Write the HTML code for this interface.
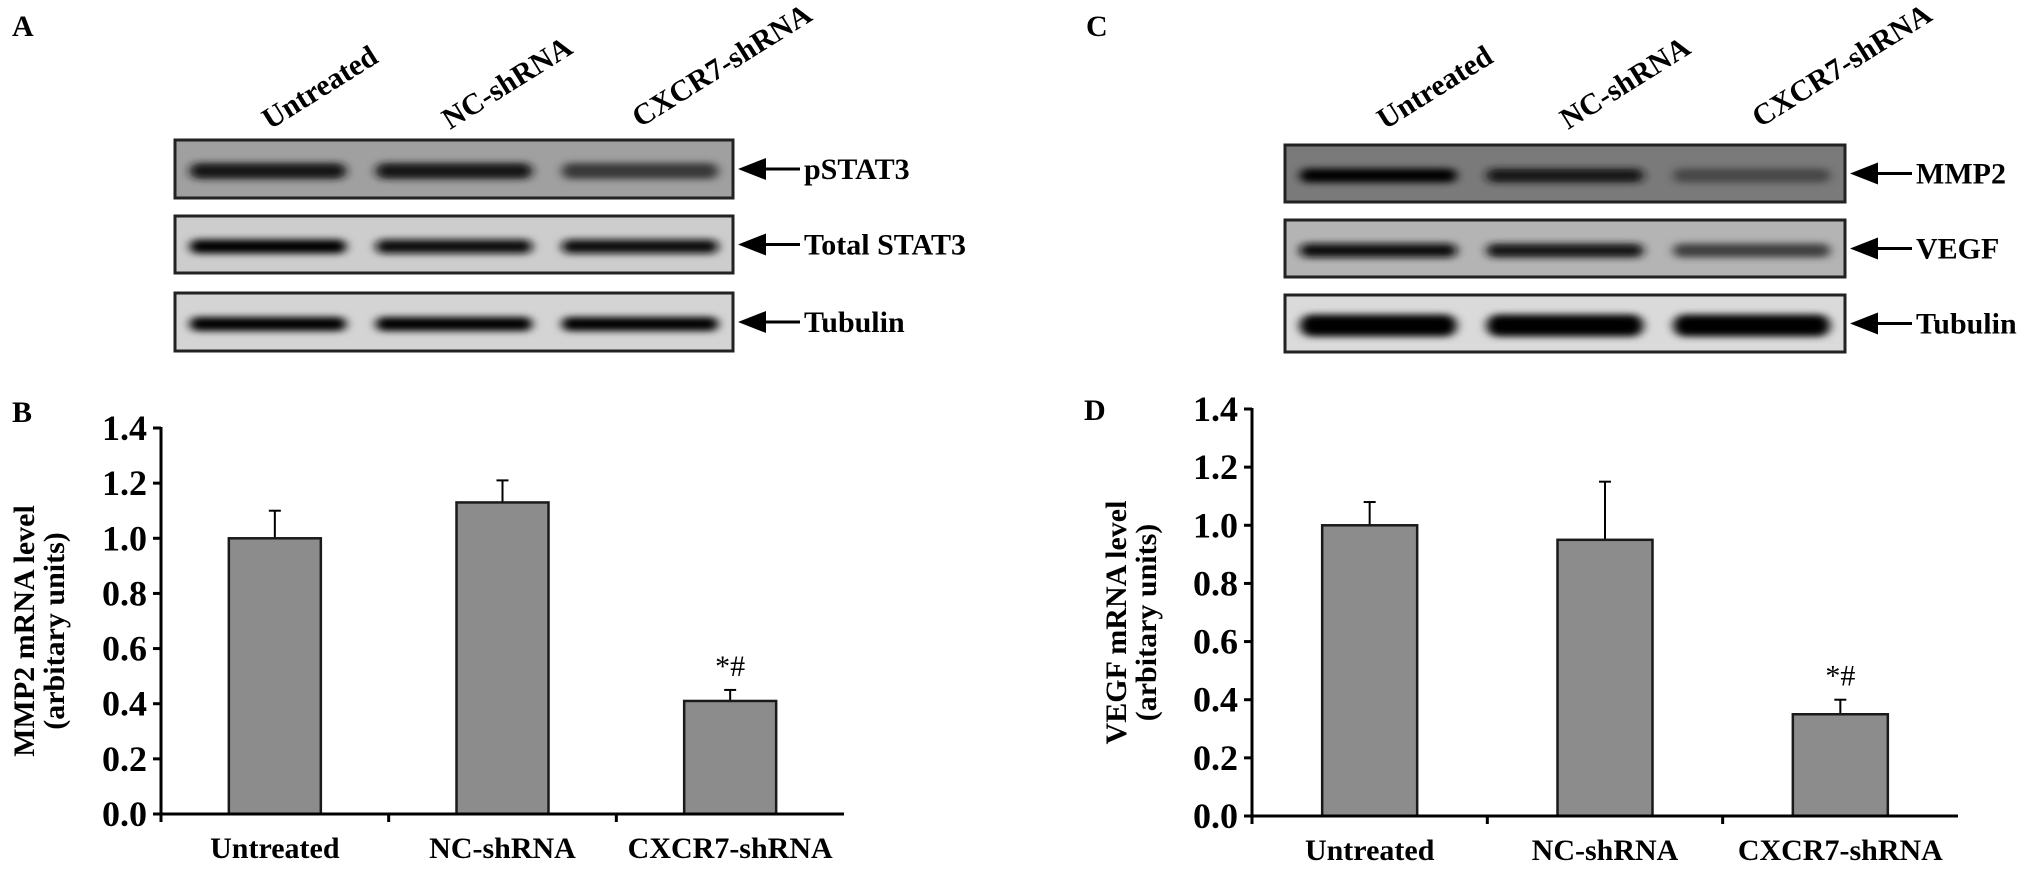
<!DOCTYPE html>
<html><head><meta charset="utf-8"><style>
body{margin:0;background:#fff}
svg{display:block;font-family:"Liberation Serif",serif;font-weight:bold}
</style></head><body>
<svg width="2031" height="874" viewBox="0 0 2031 874">
<defs>
<filter id="bl" x="-20%" y="-100%" width="140%" height="300%"><feGaussianBlur stdDeviation="5 3.5"/></filter>
</defs>
<g id="blots"></g>
<g id="chartB"></g>
<g id="chartD"></g>
</svg>
<script>
const NS='http://www.w3.org/2000/svg';
function el(tag,attrs,parent,text){const e=document.createElementNS(NS,tag);for(const k in attrs)e.setAttribute(k,attrs[k]);if(text!==undefined)e.textContent=text;parent.appendChild(e);return e;}

// ===== data =====
const categories=['Untreated','NC-shRNA','CXCR7-shRNA'];
const mmp2Values=[1.0,1.13,0.41];
const mmp2Errors=[0.10,0.08,0.04];
const vegfValues=[1.0,0.95,0.35];
const vegfErrors=[0.08,0.20,0.05];
const yTicks=[0,0.2,0.4,0.6,0.8,1.0,1.2,1.4];
const yTickLabels=['0.0','0.2','0.4','0.6','0.8','1.0','1.2','1.4'];
const sigLabels=['','','*#'];
const blotAProteins=['pSTAT3','Total STAT3','Tubulin'];
const blotAIntensity=[[0.8,0.85,0.55],[0.95,0.9,0.9],[0.95,0.95,0.95]];
const blotCProteins=['MMP2','VEGF','Tubulin'];
const blotCIntensity=[[0.95,0.85,0.45],[0.9,0.8,0.5],[1,1,1]];

// ===== blots =====
const blots=document.getElementById('blots');
function panelLetter(t,x,y,parent){const e=el('text',{x:x,y:y,'font-size':30},parent,t);

}
panelLetter('A',12,36,blots);panelLetter('C',1086,36,blots);
panelLetter('B',12,422,blots);panelLetter('D',1084,420,blots);

function drawBlot(parent,x0,x1,boxes,bgs,intens,names,labelPos,prefix,bandH){
  const g=el('g',{},parent);
  
  
  const w=x1-x0, lw=w/3;
  labelPos.forEach((p,i)=>{const t=el('text',{x:p[0],y:p[1],'font-size':30,transform:`rotate(-32 ${p[0]} ${p[1]})`},g,categories[i]);
    
    });
  boxes.forEach((b,r)=>{
    const bg=el('g',{},g);
    
    
    el('rect',{x:x0,y:b[0],width:w,height:b[1]-b[0],fill:bgs[r]},bg);
    const cy=(b[0]+b[1])/2+2;
    const h=bandH[r];
    intens[r].forEach((v,i)=>{
      const cx=x0+lw*(i+0.5);
      const c=Math.round(255*(1-v)*0.5);
      el('rect',{x:cx-lw*0.42,y:cy-h/2,width:lw*0.84,height:h,rx:h/2,fill:`rgb(${c},${c},${c})`,filter:'url(#bl)'},bg);
    });
    el('rect',{x:x0,y:b[0],width:w,height:b[1]-b[0],fill:'none',stroke:'#222','stroke-width':3},bg);
    const ay=cy-2, ax=x1+5;
    el('polygon',{points:`${ax},${ay} ${ax+28},${ay-11} ${ax+28},${ay+11}`,fill:'#000'},bg);
    el('line',{x1:ax+26,y1:ay,x2:ax+62,y2:ay,stroke:'#000','stroke-width':3},bg);
    const t=el('text',{x:ax+66,y:ay+10,'font-size':30},bg,names[r]);
    
    
  });
}
drawBlot(blots,175,733,[[140,198],[216,273],[293,351]],['#a0a0a0','#cdcdcd','#d4d4d4'],blotAIntensity,blotAProteins,[[270,130],[450,130],[640,128]],'a',[16,14,14]);
drawBlot(blots,1285,1845,[[145,202],[220,277],[295,352]],['#7a7a7a','#b4b4b4','#dadada'],blotCIntensity,blotCProteins,[[1385,130],[1568,130],[1760,128]],'c',[14,14,22]);

// ===== bar charts =====
function drawChart(gid,ax,y0,y14,xEnd,values,errors,title1,title2,titleX,barW){
  const g=document.getElementById(gid);
  
  
  const yS=v=>y0-(v/1.4)*(y0-y14);
  const step=(xEnd-ax)/3;
  const xS=i=>ax+step*(i+0.5);
  el('line',{x1:ax,y1:y14-1,x2:ax,y2:y0+8,stroke:'#000','stroke-width':3},g);
  yTicks.forEach((v,i)=>{
    el('line',{x1:ax-8,y1:yS(v),x2:ax,y2:yS(v),stroke:'#000','stroke-width':3},g);
    const t=el('text',{x:ax-14,y:yS(v)+12,'font-size':36,'text-anchor':'end'},g,yTickLabels[i]);
    
    
  });
  values.forEach((v,i)=>{
    const cx=xS(i);
    const top=yS(v+errors[i]);
    el('line',{x1:cx,y1:yS(v),x2:cx,y2:top,stroke:'#000','stroke-width':2},g);
    el('line',{x1:cx-6,y1:top,x2:cx+6,y2:top,stroke:'#000','stroke-width':2},g);
    const b=el('rect',{x:cx-barW/2,y:yS(v),width:barW,height:yS(0)-yS(v),fill:'#8c8c8c',stroke:'#1a1a1a','stroke-width':2.5},g);
    
    
    if(sigLabels[i]){const s=el('text',{x:cx,y:top-14,'font-size':30,'font-weight':'normal','text-anchor':'middle'},g,sigLabels[i]);
      
      }
    const t=el('text',{x:cx,y:y0+44,'font-size':30,'text-anchor':'middle'},g,categories[i]);
    
    
  });
  el('line',{x1:ax,y1:y0,x2:xEnd,y2:y0,stroke:'#000','stroke-width':3},g);
  [1,2].forEach(k=>el('line',{x1:ax+step*k,y1:y0,x2:ax+step*k,y2:y0+8,stroke:'#000','stroke-width':3},g));
  const cyT=(y0+y14)/2+10;
  const t1=el('text',{x:titleX,y:cyT,'font-size':30,'text-anchor':'middle',transform:`rotate(-90 ${titleX} ${cyT})`},g,title1);
  
  
  const t2=el('text',{x:titleX+30,y:cyT,'font-size':30,'text-anchor':'middle',transform:`rotate(-90 ${titleX+30} ${cyT})`},g,title2);
  
  
}
drawChart('chartB',161,814,428,844,mmp2Values,mmp2Errors,'MMP2 mRNA level','(arbitary units)',34,92);
drawChart('chartD',1252,816,409,1958,vegfValues,vegfErrors,'VEGF mRNA level','(arbitary units)',1126,95);
</script>
</body></html>
